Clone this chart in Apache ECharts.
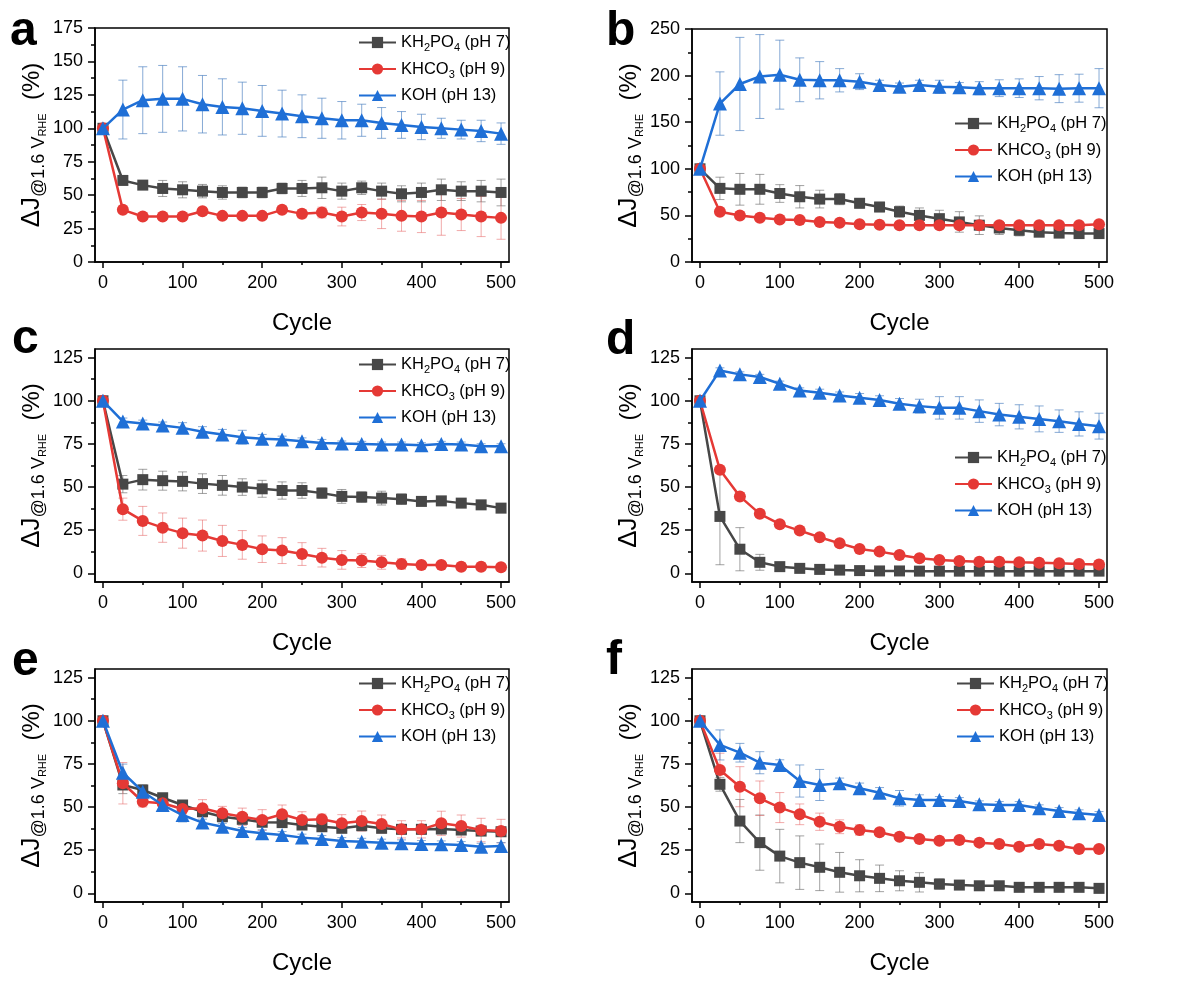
<!DOCTYPE html>
<html><head><meta charset="utf-8">
<script src="https://cdn.jsdelivr.net/npm/echarts@6/dist/echarts.min.js"></script>
<style>html,body{margin:0;padding:0;background:#fff}#c{width:1193px;height:981px}</style>
</head><body><div id="c"></div>
<script>
// ---------- data ----------
const cycles = [0,25,50,75,100,125,150,175,200,225,250,275,300,325,350,375,400,425,450,475,500];
const xTicks = [0,100,200,300,400,500];
const xMinor = [50,150,250,350,450];
const aYTicks = [0,25,50,75,100,125,150,175];
const aYMinor = [12.5,37.5,62.5,87.5,112.5,137.5,162.5];
const bYTicks = [0,50,100,150,200,250];
const bYMinor = [25,75,125,175,225];
const cYTicks = [0,25,50,75,100,125];
const cYMinor = [12.5,37.5,62.5,87.5,112.5];

const seriesNames = ['KH2PO4 (pH 7)','KHCO3 (pH 9)','KOH (pH 13)'];
const panelLetters = ['a','b','c','d','e','f'];

// panel a
const aKH   = [100,61,57.5,55,54,53,52,52,52,55,55,55.5,53,55.5,53,51,52,54,53,53,52];
const aKHe  = [2,3,3,6,6,5,5,4,4,4,6,8,6,5,6,6,7,8,7,8,10];
const aKC   = [100,39,34,34,34,38,34.5,34.5,34.5,39,36,37,34,37,36,34.5,34,37,35.5,34,33];
const aKCe  = [2,2,2,2,2,2,2,2,2,2,3,4,7,6,11,11.5,12,17,12,15,16];
const aKOH  = [100,114,121,122,122,118,116,115,113,111,109,107.5,106,106,104,102.5,101,100,99,98,96];
const aKOHe = [1,22,25,25,24,21.5,21,19.5,19,17.5,16,15,14,12,11.5,10,9.5,7.5,7,8,8];
// panel b
const bKH   = [100,79,78,78,73.5,70,67.5,67.5,63,59,54,50,46.5,43,39.5,36.5,34,32,31,30.5,30.5];
const bKHe  = [2,12,17,16,9.5,12,9.5,6,5,5,6,8,9,11,10,7,6,4,4,4,4];
const bKC   = [100,54,50,47.5,45.5,45,43,42,40.5,40,39.5,39.5,39.5,39.5,39.5,39.5,39.5,39.5,39.5,39.5,40.5];
const bKCe  = [2,3,3,3,3,3,3,3,3,3,3,3,3,3,3,3,3,3,3,3,3];
const bKOH  = [100,170,191,199,201,195.5,195,195,193.5,190,188,190,188,187.5,186.5,186.5,186.5,186.5,186,186.5,186.5];
const bKOHe = [3,34,50,45,37,23.5,20,12.5,8.5,5,4,5,7,5,7,9,10,12.5,15,15,21];
// panel c
const cKH   = [100,51.7,54.3,53.7,53.3,52,51,50,49,48,48,46.5,44.6,44.2,43.6,43,41.7,42,40.7,39.7,37.8];
const cKHe  = [1,5,6,5.5,5.5,5.7,5.7,4.8,4.9,5,4.5,3,4,3,4,3,2,2,2,2,2];
const cKC   = [100,37.2,30.4,26.5,23.3,21.9,18.8,16.5,14,13.2,11.2,9.1,7.8,7.4,6.4,5.4,4.8,4.8,3.9,3.9,3.5];
const cKCe  = [1,6.4,8.4,8.5,8.7,9,9,8.3,7.7,7.5,6.6,5.4,5.4,4,4,3,2,2,2,2,2];
const cKOH  = [100,88,86.8,85.7,84.3,82,80.4,78.9,78,77.5,76.5,75.6,75.2,75,74.6,74.6,74.2,75,74.6,73.6,73.6];
const cKOHe = [1,2,2,2,3,3,3,4,2.5,2,2,2,1.5,1.5,1.5,1.5,1.5,1.5,1.5,1.5,1.5];
// panel d
const dKH   = [100,33,14,6.4,3.9,2.9,2.3,1.9,1.6,1.4,1.4,1.3,1.3,1.3,1.3,1.3,1.3,1.3,1.3,1.3,1.3];
const dKHe  = [1,28,12.5,4.6,1,0.8,0.5,0.5,0.5,0.5,0.5,0.5,0.5,0.5,0.5,0.5,0.5,0.5,0.5,0.5,0.5];
const dKC   = [100,60,44.6,34.5,28.5,24.8,20.9,17.4,14.1,12.6,10.7,8.7,7.8,7.2,6.8,6.8,6.4,6.2,5.8,5.4,5.2];
const dKCe  = [1,2,2,2,2,1.5,1.5,1.5,1.5,1.5,1.5,1.5,1.5,1.5,1.5,1.5,1.5,1.5,1.5,1.5,1.5];
const dKOH  = [100,117.6,115.3,113.8,109.9,106,104.7,103.1,101.7,100.4,98.3,96.9,95.9,95.9,94,92,90.7,89.5,88.2,86.6,85.3];
const dKOHe = [1,1.5,1.5,1.5,1.5,1.5,2,2,2.5,2.5,3,4,6.5,6.5,6.5,6.5,7,7.5,6.5,7,7.5];
// panel e
const eKH   = [100,62.8,59.9,55.4,51.2,47.3,44.4,42.9,41.2,41,39.6,38.6,37.7,39.2,37.7,37.1,37.1,37.3,36.7,36.1,35.7];
const eKHe  = [1,5,3,2,2,2,2,2,2,2,2,2,2,2,2,2,2,2,2,2,2];
const eKC   = [100,63.8,53.1,52.2,48.9,49.3,46.4,44.4,42.5,45.8,42.5,42.9,40.6,41.9,40.2,37.1,37.1,40.6,39,36.7,36.1];
const eKCe  = [1,12,3,3,3,5,4,5,6,5.4,4.8,3,5,5.8,5.2,5,5,7,6.4,6.8,6.8];
const eKOH  = [100,69.9,58.9,51.2,45.4,41,38.6,36.1,34.8,33.8,32.3,31.5,30.3,29.9,29.4,29,28.6,28.4,28,27,27.4];
const eKOHe = [1,5,3,3,4,2,2,2,2,2,2,2,2,2,2,2,2,2,2,2,2];
// panel f
const fKH   = [100,63.2,41.9,29.4,21.6,17.8,15.1,12.2,10.2,8.7,7.3,6.4,5.4,4.8,4.4,4.4,3.5,3.5,3.5,3.5,2.9];
const fKHe  = [1,4,12.5,16,15.5,15.5,13.5,11.5,9.3,7.7,5.8,5.6,3,2,1.5,1.5,1.5,1.5,1.5,1.5,1.5];
const fKC   = [100,71.5,61.8,55.1,49.7,45.8,41.5,38.6,36.7,35.4,32.8,31.5,30.5,30.9,29.4,28.6,27,28.6,27.6,25.7,25.7];
const fKCe  = [1,9.7,11.6,10,8.7,6,5,4,3,2,2,2,2,2,2,2,2,2,2,2,2];
const fKOH  = [100,86,81.5,75.7,74.4,65.1,62.8,63.8,60.9,58.3,55.1,54.1,54.1,53.5,51.6,51.2,51.2,49.3,47.7,46.4,45.4];
const fKOHe = [1,8.7,5.4,6.4,3,9.3,9,3,3,3,4.5,3,2,2,2,2,2,2,2,2,2];

// ---------- styles / layout ----------
const FONT = '"Liberation Sans", Arial, sans-serif';
const LINE_COLORS = ['#474747','#e53935','#1f6fd6'];
const ERR_COLORS = ['rgba(100,100,100,0.6)','rgba(229,100,100,0.55)','rgba(70,125,190,0.65)'];
const SYMBOLS = ['rect','circle','triangle'];
const SYMBOL_SIZES = [11,12,14];
const legendText = ['{n|KH}{b|2}{n|PO}{b|4}{n| (pH 7)}','{n|KHCO}{b|3}{n| (pH 9)}','{n|KOH (pH 13)}'];

const panels = [
  {grid:{left:95,top:28,width:414,height:234}, ymin:0, ymax:175, yt:aYTicks, ym:aYMinor, leg:[358,34], lab:[10,49], d:[[aKH,aKHe],[aKC,aKCe],[aKOH,aKOHe]]},
  {grid:{left:692,top:29,width:415,height:233}, ymin:0, ymax:250, yt:bYTicks, ym:bYMinor, leg:[954,115], lab:[606,49], d:[[bKH,bKHe],[bKC,bKCe],[bKOH,bKOHe]]},
  {grid:{left:95,top:349,width:414,height:233}, ymin:-5, ymax:130, yt:cYTicks, ym:cYMinor, leg:[358,356], lab:[12,357], d:[[cKH,cKHe],[cKC,cKCe],[cKOH,cKOHe]]},
  {grid:{left:692,top:349,width:415,height:233}, ymin:-5, ymax:130, yt:cYTicks, ym:cYMinor, leg:[954,449], lab:[606,358], d:[[dKH,dKHe],[dKC,dKCe],[dKOH,dKOHe]]},
  {grid:{left:95,top:669,width:414,height:233}, ymin:-5, ymax:130, yt:cYTicks, ym:cYMinor, leg:[358,675], lab:[12,679], d:[[eKH,eKHe],[eKC,eKCe],[eKOH,eKOHe]]},
  {grid:{left:692,top:669,width:415,height:233}, ymin:-5, ymax:130, yt:cYTicks, ym:cYMinor, leg:[956,675], lab:[606,678], d:[[fKH,fKHe],[fKC,fKCe],[fKOH,fKOHe]]}
];

const grids=[], xAxes=[], yAxes=[], series=[], legends=[], graphics=[];
const tickStyle = {color:'#000', width:1.5};

function errSeries(i, vals, errs, color){
  return {
    type:'custom', xAxisIndex:2*i, yAxisIndex:2*i, z:1, silent:true,
    data: cycles.map((c,k)=>[c, vals[k], errs[k]]),
    encode:{x:0, y:1},
    renderItem:(params, api)=>{
      const x=api.value(0), y=api.value(1), e=api.value(2);
      const t=api.coord([x,y+e]), b=api.coord([x,y-e]);
      const w=4.5, st={stroke:color, lineWidth:1};
      return {type:'group', children:[
        {type:'line', shape:{x1:t[0],y1:t[1],x2:b[0],y2:b[1]}, style:st},
        {type:'line', shape:{x1:t[0]-w,y1:t[1],x2:t[0]+w,y2:t[1]}, style:st},
        {type:'line', shape:{x1:b[0]-w,y1:b[1],x2:b[0]+w,y2:b[1]}, style:st}
      ]};
    }
  };
}

panels.forEach((p,i)=>{
  grids.push(Object.assign({show:true, borderColor:'#000', borderWidth:1.5, backgroundColor:'transparent'}, p.grid));
  xAxes.push({gridIndex:i, type:'value', min:-10, max:510, position:'bottom',
    axisLine:{show:true, onZero:false, lineStyle:tickStyle},
    axisTick:{show:true, customValues:xTicks, length:6, lineStyle:tickStyle},
    axisLabel:{customValues:xTicks, margin:12, fontSize:18, color:'#000', fontFamily:FONT},
    splitLine:{show:false},
    name:'Cycle', nameLocation:'middle', nameGap:49,
    nameTextStyle:{fontSize:24, color:'#000', fontFamily:FONT}});
  xAxes.push({gridIndex:i, type:'value', min:-10, max:510, position:'bottom',
    axisLine:{show:false, onZero:false},
    axisTick:{show:true, customValues:xMinor, length:3, lineStyle:tickStyle},
    axisLabel:{show:false}, splitLine:{show:false}});
  yAxes.push({gridIndex:i, type:'value', min:p.ymin, max:p.ymax, position:'left',
    axisLine:{show:true, onZero:false, lineStyle:tickStyle},
    axisTick:{show:true, customValues:p.yt, length:7, lineStyle:tickStyle},
    axisLabel:{customValues:p.yt, margin:12, fontSize:18, color:'#000', fontFamily:FONT},
    splitLine:{show:false},
    name:'{d|ΔJ}{s|@1.6 V}{r|RHE}{p|  (%)}', nameLocation:'middle', nameGap:47,
    nameTextStyle:{color:'#000', fontFamily:FONT, rich:{
      d:{fontSize:26, lineHeight:32, fontFamily:FONT, color:'#000'},
      s:{fontSize:18, lineHeight:18, verticalAlign:'bottom', fontFamily:FONT, color:'#000'},
      r:{fontSize:11, lineHeight:10, verticalAlign:'bottom', fontFamily:FONT, color:'#000'},
      p:{fontSize:24, lineHeight:32, fontFamily:FONT, color:'#000'}
    }}});
  yAxes.push({gridIndex:i, type:'value', min:p.ymin, max:p.ymax, position:'left',
    axisLine:{show:false, onZero:false},
    axisTick:{show:true, customValues:p.ym, length:4, lineStyle:tickStyle},
    axisLabel:{show:false}, splitLine:{show:false}});

  p.d.forEach((sd,s)=>{ series.push(errSeries(i, sd[0], sd[1], ERR_COLORS[s])); });
  p.d.forEach((sd,s)=>{
    series.push({type:'line', name:seriesNames[s], xAxisIndex:2*i, yAxisIndex:2*i, z:3+s,
      data: cycles.map((c,k)=>[c, sd[0][k]]),
      symbol:SYMBOLS[s], symbolSize:SYMBOL_SIZES[s], showAllSymbol:true,
      lineStyle:{color:LINE_COLORS[s], width:2.5},
      itemStyle:{color:LINE_COLORS[s], borderWidth:0},
      emphasis:{disabled:true}, silent:true});
  });

  legends.push({left:p.leg[0], top:p.leg[1], padding:0, orient:'vertical', itemWidth:37, itemHeight:14, itemGap:7,
    selectedMode:false, data:seriesNames,
    formatter:(name)=>legendText[seriesNames.indexOf(name)],
    textStyle:{color:'#000', fontFamily:FONT, rich:{
      n:{fontSize:16.5, lineHeight:22, fontFamily:FONT, color:'#000'},
      b:{fontSize:11, lineHeight:11, verticalAlign:'bottom', fontFamily:FONT, color:'#000'}
    }}});

  graphics.push({type:'text', x:p.lab[0], y:p.lab[1]-41, silent:true,
    style:{text:panelLetters[i], font:'bold 48px "Liberation Sans", Arial, sans-serif', fill:'#000', verticalAlign:'top'}});
});

const chart = echarts.init(document.getElementById('c'), null, {renderer:'canvas'});
chart.setOption({
  animation:false, backgroundColor:'#fff',
  grid:grids, xAxis:xAxes, yAxis:yAxes, series:series, legend:legends, graphic:graphics
});
</script></body></html>
